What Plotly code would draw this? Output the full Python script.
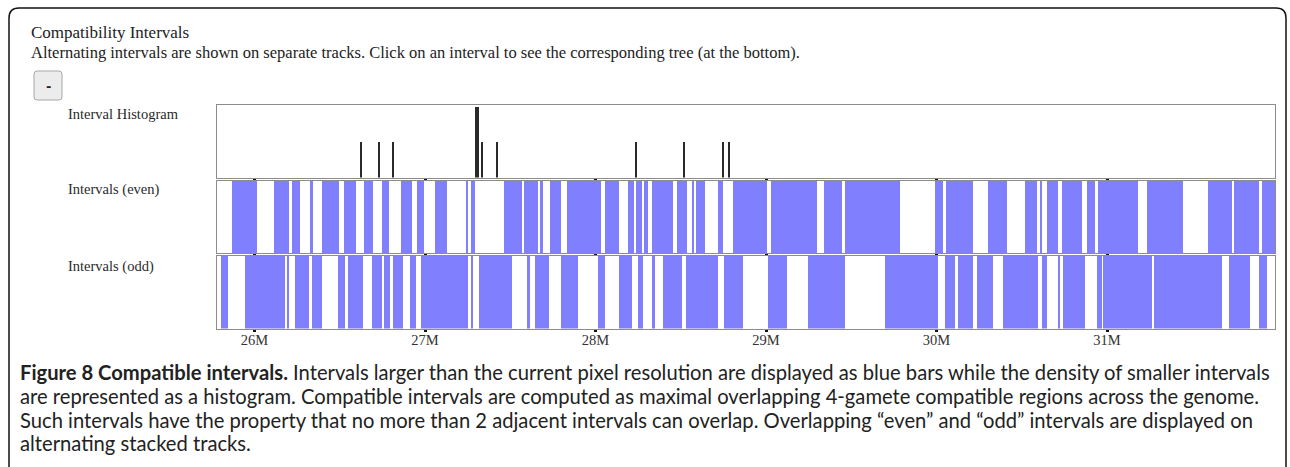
import plotly.graph_objects as go

W, H = 1290, 467

# ---------------- data (positions in Mb) ----------------
hist_pos = [26.628, 26.733, 26.812, 27.300, 27.310, 27.334, 27.425, 28.238, 28.519, 28.748, 28.783]
hist_cnt = [1, 1, 1, 2, 2, 1, 1, 1, 1, 1, 1]

even_start = [25.866, 26.114, 26.218, 26.326, 26.394, 26.527, 26.642, 26.746, 26.859, 26.955,
              27.059, 27.245, 27.268, 27.465, 27.581, 27.674, 27.733, 27.831, 28.056, 28.192,
              28.238, 28.285, 28.330, 28.476, 28.564, 28.589, 28.720, 28.805, 29.028, 29.340,
              29.463, 29.991, 30.056, 30.300, 30.519, 30.607, 30.646, 30.734, 30.881, 30.949,
              31.233, 31.594, 31.745, 31.907]
even_end = [26.013, 26.204, 26.267, 26.345, 26.497, 26.594, 26.693, 26.791, 26.926, 26.994,
            27.127, 27.254, 27.293, 27.569, 27.663, 27.692, 27.796, 28.032, 28.140, 28.226,
            28.271, 28.310, 28.453, 28.535, 28.578, 28.642, 28.750, 29.008, 29.301, 29.444,
            29.786, 30.040, 30.212, 30.412, 30.588, 30.617, 30.714, 30.852, 30.930, 31.184,
            31.448, 31.731, 31.893, 32.000]

odd_start = [25.802, 25.944, 26.192, 26.238, 26.335, 26.491, 26.550, 26.687, 26.760, 26.811,
             26.912, 26.975, 27.274, 27.318, 27.598, 27.645, 27.796, 28.016, 28.140, 28.251,
             28.330, 28.398, 28.529, 28.754, 29.013, 29.248, 29.698, 30.050, 30.128, 30.236,
             30.388, 30.617, 30.714, 30.740, 30.940, 30.978, 31.276, 31.717, 31.893]
odd_end = [25.846, 26.179, 26.204, 26.321, 26.394, 26.531, 26.638, 26.746, 26.795, 26.869,
           26.947, 27.254, 27.283, 27.508, 27.616, 27.729, 27.899, 28.056, 28.212, 28.277,
           28.349, 28.506, 28.720, 28.863, 29.121, 29.463, 30.011, 30.109, 30.216, 30.330,
           30.597, 30.646, 30.724, 30.871, 30.969, 31.262, 31.673, 31.839, 31.937]

tick_vals = [26, 27, 28, 29, 30, 31]
tick_text = ["26M", "27M", "28M", "29M", "30M", "31M"]
x_range = [25.780, 31.985]

title_text = "Compatibility Intervals"
subtitle_text = ("Alternating intervals are shown on separate tracks. Click on an interval "
                 "to see the corresponding tree (at the bottom).")
track_labels = ["Interval Histogram", "Intervals (even)", "Intervals (odd)"]
caption_lines = [
    "<b>Figure 8 Compatible intervals.</b> Intervals larger than the current pixel resolution are "
    "displayed as blue bars while the density of smaller intervals",
    "are represented as a histogram. Compatible intervals are computed as maximal overlapping "
    "4-gamete compatible regions across the genome.",
    "Such intervals have the property that no more than 2 adjacent intervals can overlap. "
    "Overlapping \u201ceven\u201d and \u201codd\u201d intervals are displayed on",
    "alternating stacked tracks.",
]

# ---------------- helpers ----------------
def fx(px):
    return px / W

def fy(py):
    return 1 - py / H

BLUE = "#8080ff"
SERIF = "Liberation Serif"
SANS = "Lato"

fig = go.Figure()

fig.add_trace(go.Bar(x=hist_pos, y=hist_cnt, width=0.010, marker=dict(color="#2a2a2a", line_width=0),
                     xaxis="x", yaxis="y", showlegend=False, hoverinfo="x+y"))
fig.add_trace(go.Bar(orientation="h", y=[0] * len(even_start),
                     x=[e - s for s, e in zip(even_start, even_end)], base=even_start, width=1,
                     marker=dict(color=BLUE, line_width=0), xaxis="x2", yaxis="y2",
                     showlegend=False))
fig.add_trace(go.Bar(orientation="h", y=[0] * len(odd_start),
                     x=[e - s for s, e in zip(odd_start, odd_end)], base=odd_start, width=1,
                     marker=dict(color=BLUE, line_width=0), xaxis="x3", yaxis="y3",
                     showlegend=False))

xdom = [fx(217), fx(1275)]
axis_common = dict(range=x_range, domain=xdom, showgrid=False, zeroline=False, showline=True,
                   mirror=True, linecolor="#8c8c8c", linewidth=1, ticks="outside", ticklen=2,
                   tickwidth=3, tickcolor="#111", tickvals=tick_vals, ticktext=tick_text)
ycommon = dict(showgrid=False, zeroline=False, showticklabels=False, showline=True, mirror=True,
               linecolor="#8c8c8c", linewidth=1, ticks="", fixedrange=True)

fig.update_layout(
    width=W, height=H,
    margin=dict(l=0, r=0, t=0, b=0),
    paper_bgcolor="white", plot_bgcolor="white",
    barmode="overlay", bargap=0,
    xaxis=dict(**axis_common, anchor="y", showticklabels=False),
    yaxis=dict(**ycommon, domain=[fy(177.5), fy(105)], range=[0, 2.05], anchor="x"),
    xaxis2=dict(**axis_common, anchor="y2", showticklabels=False, matches="x"),
    yaxis2=dict(**ycommon, domain=[fy(253), fy(180.5)], range=[-0.5, 0.5], anchor="x2"),
    xaxis3=dict(**axis_common, anchor="y3", showticklabels=True, matches="x",
                ticklabelstandoff=-4,
                tickfont=dict(family=SERIF, size=14.5, color="#333")),
    yaxis3=dict(**ycommon, domain=[fy(328.5), fy(256)], range=[-0.5, 0.5], anchor="x3"),
)

# outer rounded frame
r = 10
x0, x1, yt = fx(9), fx(1286), fy(8)
rx, ry = r / W, r / H
path = (f"M {x0},{-0.02} L {x0},{yt - ry} Q {x0},{yt} {x0 + rx},{yt} "
        f"L {x1 - rx},{yt} Q {x1},{yt} {x1},{yt - ry} L {x1},{-0.02}")
shapes = [dict(type="path", xref="paper", yref="paper", path=path,
               line=dict(color="#111", width=1.5), layer="above")]

# button
bx0, bx1, by0, by1 = 34, 62, 71, 100
br = 3
bp = (f"M {fx(bx0 + br)},{fy(by0)} L {fx(bx1 - br)},{fy(by0)} Q {fx(bx1)},{fy(by0)} {fx(bx1)},{fy(by0 + br)} "
      f"L {fx(bx1)},{fy(by1 - br)} Q {fx(bx1)},{fy(by1)} {fx(bx1 - br)},{fy(by1)} "
      f"L {fx(bx0 + br)},{fy(by1)} Q {fx(bx0)},{fy(by1)} {fx(bx0)},{fy(by1 - br)} "
      f"L {fx(bx0)},{fy(by0 + br)} Q {fx(bx0)},{fy(by0)} {fx(bx0 + br)},{fy(by0)} Z")
shapes.append(dict(type="path", xref="paper", yref="paper", path=bp,
                   line=dict(color="#a8a8a8", width=1), fillcolor="#ececec", layer="above"))
fig.update_layout(shapes=shapes)

ann = []
ann.append(dict(x=fx(29), y=fy(33), text=title_text, xanchor="left", yanchor="middle",
                font=dict(family=SERIF, size=17, color="#222")))
ann.append(dict(x=fx(29), y=fy(53), text=subtitle_text, xanchor="left", yanchor="middle",
                font=dict(family=SERIF, size=16.5, color="#222")))
ann.append(dict(x=fx(48), y=fy(86), text="<b>-</b>", xanchor="center", yanchor="middle",
                font=dict(family="DejaVu Sans", size=13, color="#222")))
for lab, yy in zip(track_labels, [114, 190, 266]):
    ann.append(dict(x=fx(66), y=fy(yy), text=lab, xanchor="left", yanchor="middle",
                    font=dict(family=SERIF, size=14.5, color="#2a2a2a")))
for i, line in enumerate(caption_lines):
    ann.append(dict(x=fx(18), y=fy(372 + i * 23.8), text=line, xanchor="left", yanchor="middle",
                    font=dict(family=SANS, size=20.2, color="#222")))
for a in ann:
    a.update(xref="paper", yref="paper", showarrow=False)
fig.update_layout(annotations=ann)

fig.write_html("out.html")
